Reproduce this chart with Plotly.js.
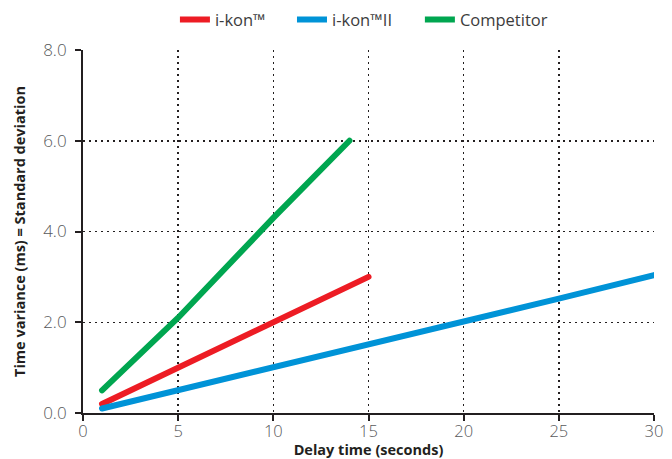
<!DOCTYPE html>
<html>
<head>
<meta charset="utf-8">
<script src="https://cdn.plot.ly/plotly-3.0.1.min.js"></script>
<style>
  html, body { margin: 0; padding: 0; background: #fff; }
  #chart { width: 672px; height: 459px; }
  .scatterlayer path.js-line { stroke-linecap: round !important; }
</style>
</head>
<body>
<div id="chart"></div>
<script>
const ikonX = [1, 5, 10, 15];
const ikonY = [0.2, 1.0, 2.0, 3.0];
const ikon2X = [1, 5, 10, 15, 20, 25, 30];
const ikon2Y = [0.1, 0.5, 1.0, 1.52, 2.02, 2.52, 3.04];
const compX = [1, 5, 10, 14];
const compY = [0.5, 2.1, 4.3, 6.0];
const xTicks = [0, 5, 10, 15, 20, 25, 30];
const yTicks = [0, 2, 4, 6, 8];
const yTickText = ['0.0', '2.0', '4.0', '6.0', '8.0'];
const xGrid = [5, 10, 15, 20, 25];
const yGrid = [2, 4, 6];
const names = ['i-kon™', 'i-kon™II', 'Competitor'];
const colors = ['#ED1C24', '#0093D7', '#00A650'];

const traces = [
  {x: ikonX, y: ikonY, name: names[0], mode: 'lines', line: {color: colors[0], width: 6}, legend: 'legend'},
  {x: ikon2X, y: ikon2Y, name: names[1], mode: 'lines', line: {color: colors[1], width: 6}, legend: 'legend2'},
  {x: compX, y: compY, name: names[2], mode: 'lines', line: {color: colors[2], width: 6}, legend: 'legend3'},
  {x: [], y: [], xaxis: 'x2', yaxis: 'y2', showlegend: false, hoverinfo: 'skip', mode: 'lines'}
];

const tickFont = {family: 'Open Sans, sans-serif', size: 17, color: '#58595B', weight: 300};
const xTickFont = {family: 'Open Sans, sans-serif', size: 16.5, color: '#58595B', weight: 300};
const titleFont = {family: 'Open Sans, sans-serif', size: 14.5, color: '#231F20', weight: 'bold'};
const legendFont = {family: 'Open Sans, sans-serif', size: 16.5, color: '#3C3C3C'};
const gridDash = '1.5px,4.5px';

function legendAt(xFrac) {
  return {orientation: 'h', x: xFrac, xanchor: 'left', y: 1.083, yanchor: 'middle',
          font: legendFont, itemwidth: 30, bgcolor: 'rgba(0,0,0,0)', borderwidth: 0};
}

const layout = {
  width: 672, height: 459,
  margin: {l: 83, r: 18, t: 50, b: 46, autoexpand: false},
  paper_bgcolor: '#fff', plot_bgcolor: '#fff',
  showlegend: true,
  legend: legendAt(0.161),
  legend2: legendAt(0.366),
  legend3: legendAt(0.59),
  xaxis: {
    range: [0, 30], tickvals: xTicks, ticktext: xTicks.map(String),
    showgrid: false, zeroline: false,
    showline: true, linecolor: '#231F20', linewidth: 2,
    ticks: 'outside', ticklen: 6, tickwidth: 2, tickcolor: '#231F20',
    tickfont: xTickFont, ticklabelstandoff: -4,
    title: {text: 'Delay time (seconds)', font: titleFont, standoff: 6}
  },
  yaxis: {
    range: [0, 8], tickvals: yTicks, ticktext: yTickText,
    showgrid: false, zeroline: false,
    showline: true, linecolor: '#231F20', linewidth: 2,
    ticks: 'outside', ticklen: 6, tickwidth: 2, tickcolor: '#231F20',
    tickfont: tickFont, ticklabelstandoff: 5,
    title: {text: 'Time variance (ms) = Standard deviation', font: titleFont, standoff: 14}
  },
  xaxis2: {
    overlaying: 'x', range: [0, 30], tickvals: xGrid, showticklabels: false,
    showgrid: true, gridcolor: '#231F20', gridwidth: 1.5, griddash: gridDash,
    zeroline: false, showline: false, ticks: ''
  },
  yaxis2: {
    overlaying: 'y', range: [0, 8], tickvals: yGrid, showticklabels: false,
    showgrid: true, gridcolor: '#231F20', gridwidth: 1.5, griddash: gridDash,
    zeroline: false, showline: false, ticks: ''
  }
};

Plotly.newPlot('chart', traces, layout, {displayModeBar: false, staticPlot: true});
</script>
</body>
</html>
